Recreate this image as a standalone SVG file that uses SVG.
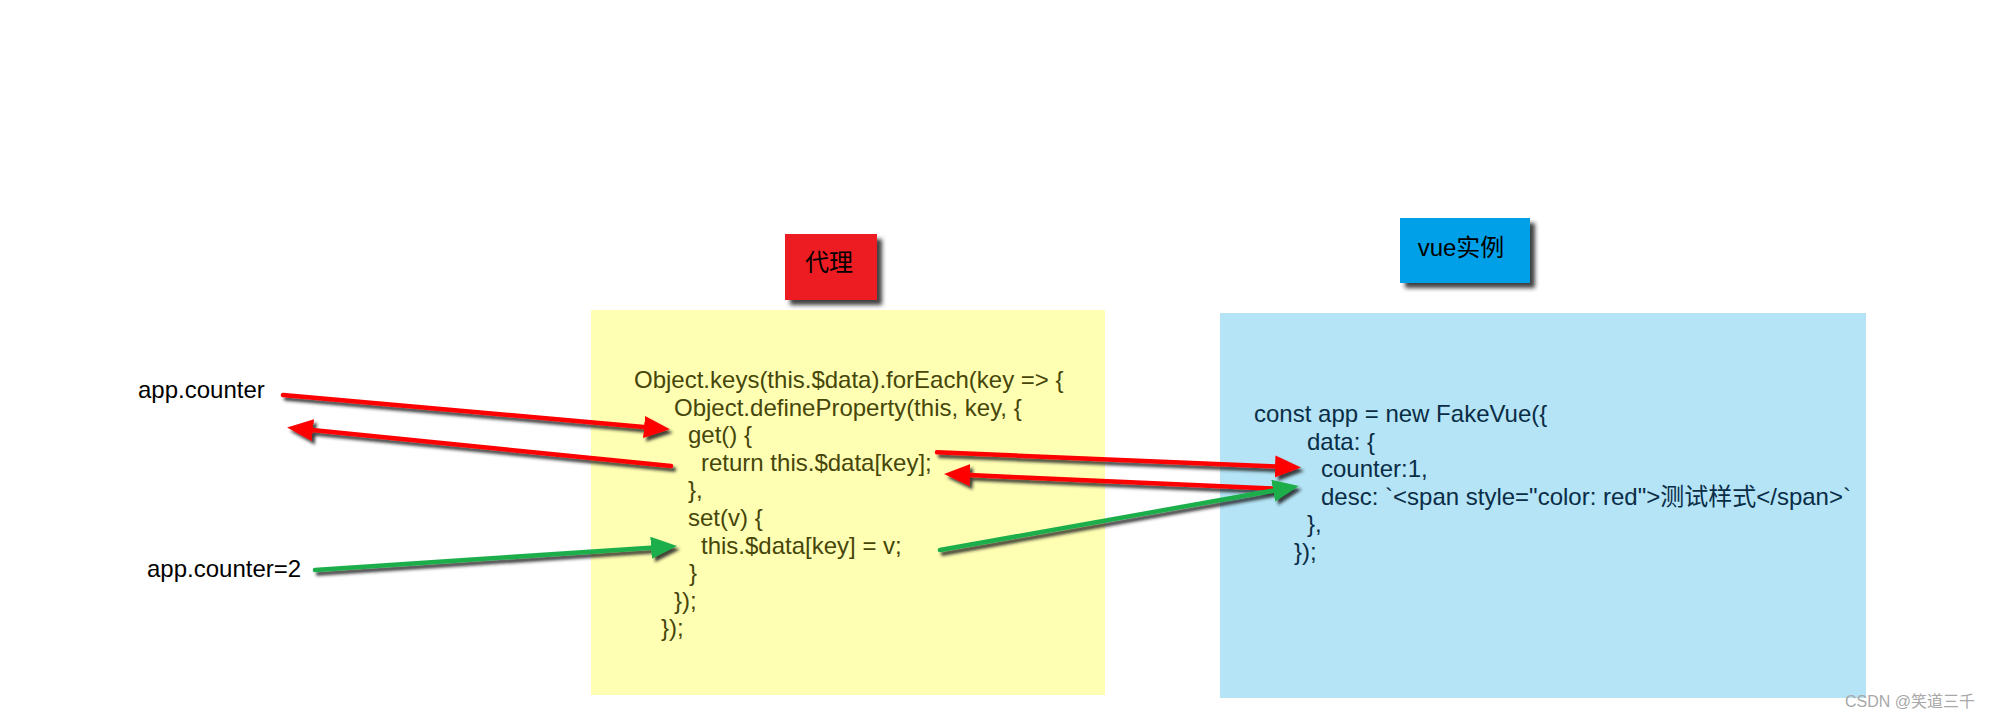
<svg xmlns="http://www.w3.org/2000/svg" width="1996" height="720" viewBox="0 0 1996 720">
  <style>
    .t { font-family: "Liberation Sans", Arial, "Noto Sans CJK SC", sans-serif; font-size: 24px; }
    .code-y { fill: #46460A; }
    .code-b { fill: #0A2D46; }
    .lbl { fill: #000000; }
    .red { stroke: #FF0000; stroke-width: 4.5; fill: none; stroke-linecap: round; }
    .green { stroke: #1FAE4B; stroke-width: 4.5; fill: none; stroke-linecap: round; }
  </style>
  <defs>
    <filter id="boxShadow" x="-20%" y="-20%" width="150%" height="150%">
      <feDropShadow dx="5" dy="5" stdDeviation="2" flood-color="#1a1a1a" flood-opacity="0.85"/>
    </filter>
    <filter id="lineShadow" x="-10%" y="-50%" width="120%" height="200%">
      <feDropShadow dx="3" dy="3.5" stdDeviation="1.8" flood-color="#222222" flood-opacity="0.85"/>
    </filter>
    <marker id="headRed" markerUnits="userSpaceOnUse" markerWidth="28" markerHeight="24" refX="11" refY="11" orient="auto" viewBox="0 0 28 24">
      <path d="M0,0 L26,11 L0,22 Z" fill="#FF0000"/>
    </marker>
    <marker id="headGreen" markerUnits="userSpaceOnUse" markerWidth="28" markerHeight="24" refX="11" refY="11" orient="auto" viewBox="0 0 28 24">
      <path d="M0,0 L26,11 L0,22 Z" fill="#1FAE4B"/>
    </marker>
  </defs>

  <rect width="1996" height="720" fill="#FFFFFF"/>

  <g id="box-proxy">
    <rect x="591" y="310" width="514" height="385" fill="#FFFFB3"/>
    <text class="t code-y" x="634" y="388">Object.keys(this.$data).forEach(key =&gt; {</text>
    <text class="t code-y" x="674" y="415.6">Object.defineProperty(this, key, {</text>
    <text class="t code-y" x="688" y="443.2">get() {</text>
    <text class="t code-y" x="701" y="470.8">return this.$data[key];</text>
    <text class="t code-y" x="688" y="498.4">},</text>
    <text class="t code-y" x="688" y="526">set(v) {</text>
    <text class="t code-y" x="701" y="553.6">this.$data[key] = v;</text>
    <text class="t code-y" x="689" y="581.2">}</text>
    <text class="t code-y" x="674" y="608.8">});</text>
    <text class="t code-y" x="661" y="636.4">});</text>
  </g>

  <g id="box-vue">
    <rect x="1220" y="313" width="646" height="385" fill="#B4E4F6"/>
    <text class="t code-b" x="1254" y="422">const app = new FakeVue({</text>
    <text class="t code-b" x="1307" y="449.6">data: {</text>
    <text class="t code-b" x="1321" y="477.2">counter:1,</text>
    <text class="t code-b" x="1321" y="504.8">desc: `&lt;span style="color: red"&gt;测试样式&lt;/span&gt;`</text>
    <text class="t code-b" x="1307" y="532.4">},</text>
    <text class="t code-b" x="1294" y="560">});</text>
  </g>

  <g id="label-proxy">
    <rect x="785" y="234" width="92" height="66" fill="#ED1C24" filter="url(#boxShadow)"/>
    <text class="t lbl" x="829" y="271" text-anchor="middle">代理</text>
  </g>

  <g id="label-vue">
    <rect x="1400" y="218" width="130" height="65" fill="#00A0E9" filter="url(#boxShadow)"/>
    <text class="t lbl" x="1461" y="256" text-anchor="middle">vue实例</text>
  </g>

  <g id="node-app-counter">
    <text class="t lbl" x="138" y="398">app.counter</text>
  </g>
  <g id="node-app-counter-set">
    <text class="t lbl" x="147" y="577">app.counter=2</text>
  </g>

  <g id="connectors" filter="url(#lineShadow)">
    <line class="red" x1="283" y1="395" x2="655" y2="428" marker-end="url(#headRed)"/>
    <line class="red" x1="671" y1="466" x2="302" y2="429" marker-end="url(#headRed)"/>
    <line class="green" x1="315" y1="570" x2="662" y2="547" marker-end="url(#headGreen)"/>
    <line class="red" x1="937" y1="452.3" x2="1286" y2="466.9" marker-end="url(#headRed)"/>
    <line class="red" x1="1272" y1="488.5" x2="959" y2="474.6" marker-end="url(#headRed)"/>
    <line class="green" x1="940" y1="550" x2="1284" y2="488.7" marker-end="url(#headGreen)"/>
  </g>

  <g id="watermark">
    <text x="1845" y="707" font-family="'Liberation Sans', Arial, 'Noto Sans CJK SC', sans-serif" font-size="16" fill="#A8A8A8">CSDN @笑道三千</text>
  </g>
</svg>
